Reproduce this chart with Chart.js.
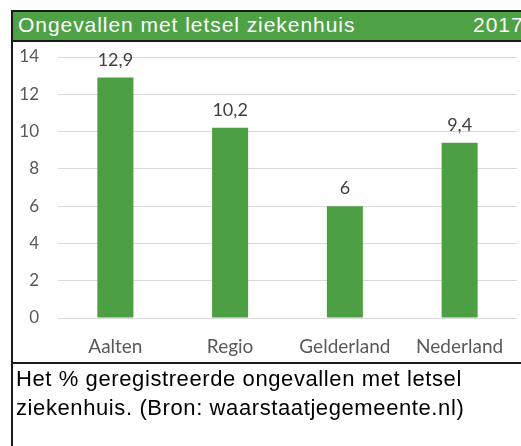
<!DOCTYPE html>
<html>
<head>
<meta charset="utf-8">
<script src="https://cdn.jsdelivr.net/npm/chart.js@4.4.1/dist/chart.umd.min.js"></script>
<style>
  html, body { margin: 0; padding: 0; background: #ffffff; width: 521px; height: 446px; overflow: hidden; }
  #wrap { position: relative; width: 521px; height: 446px; }
  #c { position: absolute; left: 0; top: 0; }
  #titlebar { position: absolute; left: 11px; top: 10px; width: 520px; height: 28px; background: #4EA245;
    border: 2px solid #1a1a1a; }
  #title { position: absolute; left: 5px; top: 0px; line-height: 26px; font-family: "Liberation Sans", Arial, sans-serif; font-size: 21px; letter-spacing: 0.95px; color: #ffffff; white-space: nowrap; }
  #year { position: absolute; left: 460px; top: 0px; line-height: 26px; font-family: "Liberation Sans", Arial, sans-serif; font-size: 21px; letter-spacing: 0.95px; color: #ffffff; white-space: nowrap; }
  #leftborder { position: absolute; left: 11px; top: 40px; width: 2px; height: 406px; background: #1a1a1a; }
  #hline { position: absolute; left: 11px; top: 362px; width: 510px; height: 2px; background: #1a1a1a; }
  #caption { position: absolute; left: 16px; top: 365px; width: 505px; font-family: "Liberation Sans", Arial, sans-serif; font-size: 22px; letter-spacing: 0.6px; line-height: 28.5px; color: #000000; white-space: nowrap; }
</style>
</head>
<body>
<div id="wrap">
  <canvas id="c" width="521" height="446"></canvas>
  <div id="titlebar"><span id="title">Ongevallen met letsel ziekenhuis</span><span id="year">2017</span></div>
  <div id="leftborder"></div>
  <div id="hline"></div>
  <div id="caption">Het % geregistreerde ongevallen met letsel<br>ziekenhuis. (Bron: waarstaatjegemeente.nl)</div>
</div>
<script>
const categories = ["Aalten", "Regio", "Gelderland", "Nederland"];
const values = [12.9, 10.2, 6, 9.4];
const yTicks = [0, 2, 4, 6, 8, 10, 12, 14];

const valueLabels = {
  id: 'valueLabels',
  afterDatasetsDraw(chart) {
    const ctx = chart.ctx;
    const meta = chart.getDatasetMeta(0);
    ctx.save();
    ctx.font = '18px Lato';
    ctx.fillStyle = '#404040';
    ctx.textAlign = 'center';
    ctx.textBaseline = 'alphabetic';
    meta.data.forEach((bar, i) => {
      const txt = String(chart.data.datasets[0].data[i]).replace('.', ',');
      ctx.fillText(txt, bar.x, bar.y - 12);
    });
    ctx.restore();
  }
};

new Chart(document.getElementById('c'), {
  type: 'bar',
  data: {
    labels: categories,
    datasets: [{
      data: values,
      backgroundColor: '#4C9F43',
      borderWidth: 0,
      categoryPercentage: 1,
      barPercentage: 0.314
    }]
  },
  options: {
    responsive: false,
    devicePixelRatio: 1,
    animation: false,
    layout: { padding: { left: 13, top: 57, right: 4, bottom: 88 } },
    plugins: { legend: { display: false }, tooltip: { enabled: false } },
    scales: {
      y: {
        min: 0, max: 14,
        afterFit(s) { s.width = 45; },
        afterBuildTicks(s) { s.ticks = yTicks.map(v => ({ value: v })); },
        grid: { color: '#d9d9d9', lineWidth: 1, drawTicks: false },
        border: { display: false },
        ticks: { padding: 19, color: '#595959', font: { family: 'Lato', size: 17 } }
      },
      x: {
        afterFit(s) { s.height = 40; },
        grid: { display: false, drawTicks: false },
        border: { display: false },
        ticks: { padding: 17, color: '#595959', font: { family: 'Lato', size: 19 } }
      }
    }
  },
  plugins: [valueLabels]
});
</script>
</body>
</html>
